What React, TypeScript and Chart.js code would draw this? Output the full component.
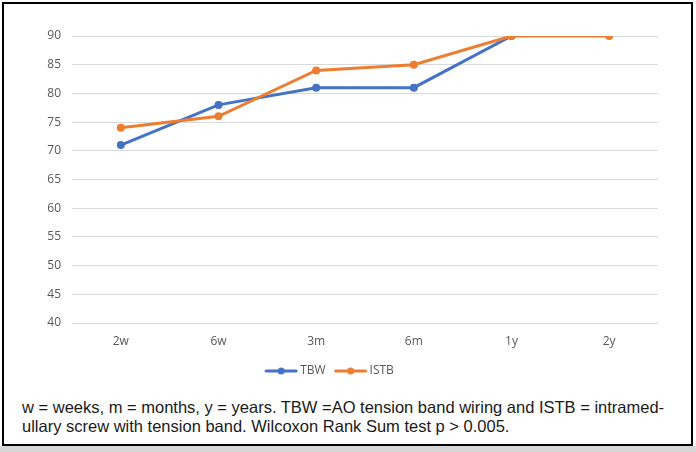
import React, { useEffect, useRef } from "react";
import { Chart, registerables } from "chart.js";

Chart.register(...registerables);

const categories = ["2w", "6w", "3m", "6m", "1y", "2y"];
const tbwValues: (number | null)[] = [71, 78, 81, 81, 90, null];
const istbValues: (number | null)[] = [74, 76, 84, 85, 90, 90];
const seriesNames = ["TBW", "ISTB"];
const seriesColors = ["#4472C4", "#ED7D31"];
const yMin = 40;
const yMax = 90;
const yStep = 5;
const captionLines = [
  "w = weeks, m = months, y = years. TBW =AO tension band wiring and ISTB = intramed-",
  "ullary screw with tension band. Wilcoxon Rank Sum test p > 0.005.",
];

function legendIcon(color: string): HTMLCanvasElement {
  const c = document.createElement("canvas");
  c.width = 34;
  c.height = 10;
  const ctx = c.getContext("2d")!;
  ctx.strokeStyle = color;
  ctx.lineWidth = 3;
  ctx.lineCap = "round";
  ctx.beginPath();
  ctx.moveTo(2, 5);
  ctx.lineTo(32, 5);
  ctx.stroke();
  ctx.fillStyle = color;
  ctx.beginPath();
  ctx.arc(17, 5, 3.5, 0, Math.PI * 2);
  ctx.fill();
  return c;
}

export default function App() {
  const ref = useRef<HTMLCanvasElement>(null);

  useEffect(() => {
    document.body.style.margin = "0";
    const tickFont = { family: "'Open Sans', 'Liberation Sans', sans-serif", size: 12 };
    const chart = new Chart(ref.current!, {
      type: "line",
      data: {
        labels: categories,
        datasets: [
          {
            label: seriesNames[0],
            data: tbwValues,
            borderColor: seriesColors[0],
            backgroundColor: seriesColors[0],
            borderWidth: 3,
            pointRadius: 4,
            pointHoverRadius: 4,
            pointBorderWidth: 0,
            tension: 0,
            order: 2,
          },
          {
            label: seriesNames[1],
            data: istbValues,
            borderColor: seriesColors[1],
            backgroundColor: seriesColors[1],
            borderWidth: 3,
            pointRadius: 4,
            pointHoverRadius: 4,
            pointBorderWidth: 0,
            tension: 0,
            order: 1,
          },
        ],
      },
      options: {
        responsive: false,
        animation: false,
        devicePixelRatio: 1,
        layout: { padding: { top: 32, right: 32, left: 0, bottom: 6 } },
        plugins: {
          tooltip: { enabled: false },
          legend: {
            position: "bottom",
            labels: {
              usePointStyle: true,
              pointStyleWidth: 26,
              boxHeight: 10,
              padding: 12,
              color: "#595959",
              font: tickFont,
              generateLabels: () =>
                seriesNames.map((name, i) => ({
                  text: name,
                  pointStyle: legendIcon(seriesColors[i]),
                  fillStyle: seriesColors[i],
                  strokeStyle: seriesColors[i],
                  lineWidth: 0,
                  fontColor: "#595959",
                  datasetIndex: i,
                  hidden: false,
                })),
            },
          },
        },
        scales: {
          x: {
            offset: true,
            grid: { display: false },
            border: { display: false },
            ticks: { color: "#595959", font: tickFont, padding: 3 },
            afterFit: (s: any) => {
              s.height = 30;
            },
          },
          y: {
            min: yMin,
            max: yMax,
            grid: { color: "#d9d9d9", drawTicks: false, lineWidth: 1 },
            border: { display: false },
            ticks: { stepSize: yStep, color: "#595959", font: tickFont, padding: 11 },
            afterFit: (s: any) => {
              s.width = 68;
            },
          },
        },
      },
    });
    return () => chart.destroy();
  }, []);

  return (
    <div style={{ position: "relative", width: 696, height: 452, background: "#fff", overflow: "hidden" }}>
      <div style={{ position: "absolute", left: 0, top: 446, width: 696, height: 6, background: "#d6d6d6" }} />
      <div
        style={{
          position: "absolute",
          left: 2,
          top: 2,
          width: 687,
          height: 440,
          border: "2px solid #000",
          background: "#fff",
        }}
      >
        <canvas ref={ref} width={686} height={389} style={{ position: "absolute", left: 0, top: 0 }} />
        <div
          style={{
            position: "absolute",
            left: 18,
            top: 394,
            width: 670,
            fontFamily: "'Liberation Sans', Arial, sans-serif",
            fontSize: 16.5,
            lineHeight: "19px",
            color: "#1a1a1a",
            whiteSpace: "nowrap",
          }}
        >
          {captionLines.map((l, i) => (
            <div key={i}>{l}</div>
          ))}
        </div>
      </div>
    </div>
  );
}
